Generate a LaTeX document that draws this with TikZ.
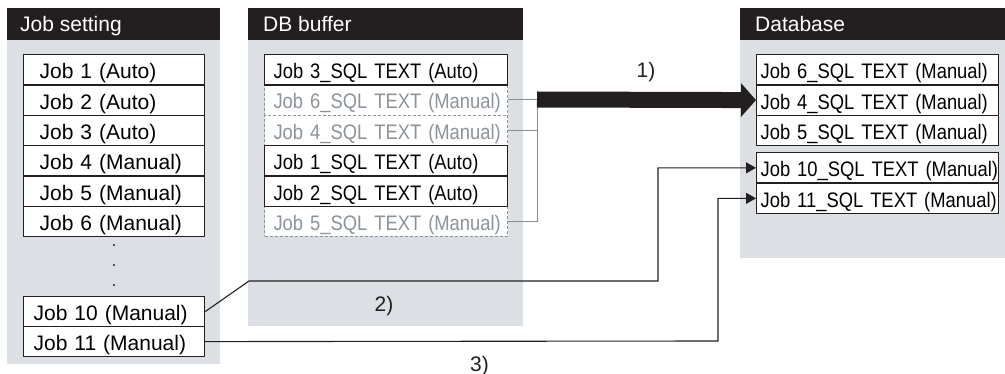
\documentclass[tikz,border=0pt]{standalone}
\usepackage{fontspec}
\setmainfont{Liberation Sans}
\newfontfamily\narrowfont[FakeStretch=0.875]{Liberation Sans}
\usetikzlibrary{arrows.meta}
\definecolor{panelgrey}{HTML}{DCDFE3}
\definecolor{headblack}{HTML}{231F20}
\definecolor{ghost}{HTML}{8C9399}
\definecolor{busgrey}{HTML}{858E96}
\begin{document}
\begin{tikzpicture}[x=1pt,y=-1pt,
  every node/.style={font=\fontsize{21}{25}\selectfont},
  headtext/.style={anchor=west,text=white,inner sep=0pt,text height=16pt,text depth=0pt},
  rowbox/.style={draw=headblack,line width=1.2pt,fill=white,anchor=north west,inner ysep=0pt,
    text height=18pt,text depth=0pt,minimum height=30.33pt,align=left},
  jobrow/.style={rowbox,inner xsep=16pt,text width=149pt},
  jobrowb/.style={rowbox,inner xsep=10pt,text width=161pt,minimum height=30pt},
  bufrow/.style={rowbox,inner xsep=9pt,text width=225pt,font=\narrowfont\fontsize{21}{25}\selectfont},
  ghostrow/.style={bufrow,draw=ghost,line width=1pt,dash pattern=on 3pt off 2pt,text=ghost},
  dbrow/.style={rowbox,inner xsep=4pt,text width=234pt,font=\narrowfont\fontsize{21}{25}\selectfont},
  dbrowb/.style={dbrow,minimum height=30.5pt},
  busline/.style={draw=busgrey,line width=1pt},
  conn/.style={draw=headblack,line width=1.1pt,-{Triangle[length=10pt,width=11pt]}},
  bigarrow/.style={draw=headblack,line width=16pt,-{Triangle[length=15pt,width=33pt]}},
  lbl/.style={inner sep=0pt,text height=15pt,text depth=0pt,text=headblack}
]
\useasboundingbox (0,0) rectangle (1005,374);

% panels
\fill[panelgrey] (7,40) rectangle (220,364);
\fill[headblack] (7,8) rectangle (220,40);
\node[headtext] (h1) at (20,24) {Job setting};

\fill[panelgrey] (248,40) rectangle (523,326);
\fill[headblack] (248,8) rectangle (523,40);
\node[headtext] (h2) at (263,24) {DB buffer};

\fill[panelgrey] (740,40) rectangle (1005,258);
\fill[headblack] (740,8) rectangle (1005,40);
\node[headtext] (h3) at (755,24) {Database};

% job setting rows
\node[jobrow] (j1) at (23,54) {\mbox{Job 1 (Auto)}};
\node[jobrow] (j2) at (23,84.33) {\mbox{Job 2 (Auto)}};
\node[jobrow] (j3) at (23,114.67) {\mbox{Job 3 (Auto)}};
\node[jobrow] (j4) at (23,145) {\mbox{Job 4 (Manual)}};
\node[jobrow] (j5) at (23,175.33) {\mbox{Job 5 (Manual)}};
\node[jobrow] (j6) at (23,205.67) {\mbox{Job 6 (Manual)}};
\fill[headblack] (114,245) circle (1.1pt);
\fill[headblack] (114,265) circle (1.1pt);
\fill[headblack] (114,285) circle (1.1pt);
\node[jobrowb] (j10) at (23,296) {\mbox{Job 10 (Manual)}};
\node[jobrowb] (j11) at (23,326) {\mbox{Job 11 (Manual)}};

% DB buffer rows
\node[ghostrow] (b6) at (264,84.33) {\mbox{Job 6\_SQL TEXT (Manual)}};
\node[ghostrow] (b4) at (264,114.67) {\mbox{Job 4\_SQL TEXT (Manual)}};
\node[ghostrow] (b5) at (264,205.67) {\mbox{Job 5\_SQL TEXT (Manual)}};
\node[bufrow] (b3) at (264,54) {\mbox{Job 3\_SQL TEXT (Auto)}};
\node[bufrow] (b1) at (264,145) {\mbox{Job 1\_SQL TEXT (Auto)}};
\node[bufrow] (b2) at (264,175.33) {\mbox{Job 2\_SQL TEXT (Auto)}};

% Database rows
\node[dbrow] (d6) at (756,54) {\mbox{Job 6\_SQL TEXT (Manual)}};
\node[dbrow] (d4) at (756,84.33) {\mbox{Job 4\_SQL TEXT (Manual)}};
\node[dbrow] (d5) at (756,114.67) {\mbox{Job 5\_SQL TEXT (Manual)}};
\node[dbrowb] (d10) at (756,152) {\mbox{Job 10\_SQL TEXT (Manual)}};
\node[dbrowb] (d11) at (756,182.5) {\mbox{Job 11\_SQL TEXT (Manual)}};

% grey bus from manual rows
\coordinate (bus) at (537,99.5);
\draw[busline] (b6.east) -- (b6.east -| bus);
\draw[busline] (b4.east) -- (b4.east -| bus);
\draw[busline] (b5.east) -| (bus);

% 1) big arrow
\draw[bigarrow] (bus) -- (d4.west);
\node[lbl] (l1) at (646,70) {1)};

% 2)
\coordinate (c2a) at (249,281);
\coordinate (c2b) at (658,281);
\draw[conn] (j10.east) -- (c2a) -- (c2b) |- (d10.west);
\node[lbl] (l2) at (384,304) {2)};

% 3)
\coordinate (c3) at (718,341);
\draw[conn] (j11.east) -- (c3) |- (d11.west);
\node[lbl] (l3) at (479.5,363.5) {3)};
\end{tikzpicture}
\end{document}
